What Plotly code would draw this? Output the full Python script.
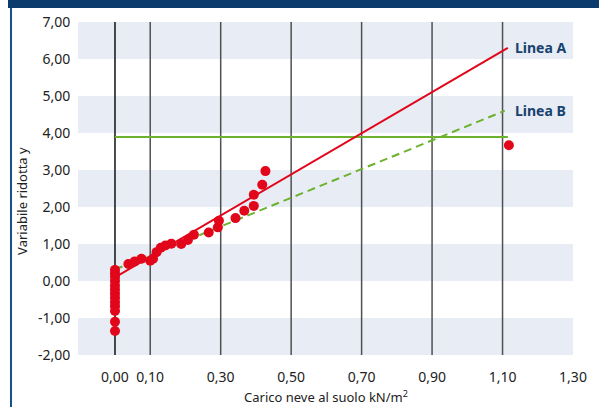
import plotly.graph_objects as go

# ---- data ----
pts_x = [0, 0, 0, 0, 0, 0, 0, 0, 0, 0, 0, 0, 0,
         0.038, 0.056, 0.075, 0.100, 0.108, 0.118, 0.130, 0.143, 0.160,
         0.188, 0.207, 0.224, 0.266, 0.292, 0.295, 0.342, 0.367, 0.394,
         0.394, 0.418, 0.427, 1.118]
pts_y = [0.30, 0.20, 0.11, 0.00, -0.12, -0.23, -0.34, -0.45, -0.57, -0.68, -0.81, -1.10, -1.35,
         0.46, 0.53, 0.60, 0.55, 0.60, 0.78, 0.90, 0.96, 1.01,
         1.00, 1.11, 1.25, 1.31, 1.45, 1.63, 1.70, 1.90, 2.03,
         2.33, 2.60, 2.97, 3.67]

line_a_x = [0.0, 1.115]
line_a_y = [0.10, 6.30]
line_b_x = [0.0, 1.106]
line_b_y = [0.31, 4.60]
limit_x = [0.0, 1.115]
limit_y = [3.89, 3.89]

x_ticks = [0.0, 0.1, 0.3, 0.5, 0.7, 0.9, 1.1, 1.3]
x_ticktext = ["0,00", "0,10", "0,30", "0,50", "0,70", "0,90", "1,10", "1,30"]
x_gridlines = [0.0, 0.1, 0.3, 0.5, 0.7, 0.9, 1.1]
y_ticks = [-2, -1, 0, 1, 2, 3, 4, 5, 6, 7]
y_ticktext = ["-2,00", "-1,00", "0,00", "1,00", "2,00", "3,00", "4,00", "5,00", "6,00", "7,00"]
bands = [(6, 7), (4, 5), (2, 3), (0, 1), (-2, -1)]

RED = "#e2061b"
GREEN = "#6cb22f"
NAVY = "#17426f"
FONT = "Noto Sans"

fig = go.Figure()
fig.add_trace(go.Scatter(x=limit_x, y=limit_y, mode="lines",
                         line=dict(color=GREEN, width=2), hoverinfo="skip"))
fig.add_trace(go.Scatter(x=line_b_x, y=line_b_y, mode="lines",
                         line=dict(color=GREEN, width=2, dash="8px,5px"), hoverinfo="skip"))
fig.add_trace(go.Scatter(x=line_a_x, y=line_a_y, mode="lines",
                         line=dict(color=RED, width=2), hoverinfo="skip"))
fig.add_trace(go.Scatter(x=pts_x, y=pts_y, mode="markers",
                         marker=dict(color=RED, size=10, line=dict(width=0))))

shapes = []
for y0, y1 in bands:
    shapes.append(dict(type="rect", xref="paper", yref="y", x0=0, x1=1, y0=y0, y1=y1,
                       fillcolor="#e8ecf5", line=dict(width=0), layer="below"))
for gx in x_gridlines:
    shapes.append(dict(type="line", xref="x", yref="paper", x0=gx, x1=gx, y0=0, y1=1,
                       line=dict(color="#111111" if gx == 0 else "#505050", width=1.5),
                       layer="below"))
# frame decorations (top band and left border)
shapes.append(dict(type="rect", xref="paper", yref="paper", x0=-0.1414, x1=1.06,
                   y0=1.0418, y1=1.07, fillcolor="#0b3a6c", line=dict(width=0)))
shapes.append(dict(type="rect", xref="paper", yref="paper", x0=-0.1374, x1=-0.1333,
                   y0=-0.16, y1=1.0418, fillcolor="#1b4f8a", line=dict(width=0)))

annotations = [
    dict(x=1.13, y=line_a_y[1], xref="x", yref="y", text="<b>Linea A</b>", showarrow=False,
         xanchor="left", yanchor="middle", font=dict(family=FONT, size=14, color=NAVY)),
    dict(x=1.13, y=line_b_y[1], xref="x", yref="y", text="<b>Linea B</b>", showarrow=False,
         xanchor="left", yanchor="middle", font=dict(family=FONT, size=14, color=NAVY)),
    dict(x=0.5, y=-0.125, xref="paper", yref="paper", text="Carico neve al suolo kN/m<sup>2</sup>",
         showarrow=False, xanchor="center", yanchor="middle",
         font=dict(family=FONT, size=13, color="#222222")),
    dict(x=-0.113, y=0.463, xref="paper", yref="paper", text="Variabile ridotta y",
         showarrow=False, xanchor="center", yanchor="middle", textangle=-90,
         font=dict(family=FONT, size=13, color="#222222")),
]

fig.update_layout(
    width=599, height=407,
    margin=dict(l=78, r=26, t=20, b=52),
    paper_bgcolor="white", plot_bgcolor="white",
    showlegend=False,
    shapes=shapes, annotations=annotations,
    font=dict(family=FONT, size=14, color="#222222"),
    xaxis=dict(range=[-0.105, 1.30], tickvals=x_ticks, ticktext=x_ticktext,
               showgrid=False, zeroline=False, showline=False,
               ticks="outside", ticklen=9, tickcolor="rgba(0,0,0,0)",
               tickfont=dict(family=FONT, size=14, color="#222222")),
    yaxis=dict(range=[-2, 7], tickvals=y_ticks, ticktext=y_ticktext,
               showgrid=False, zeroline=False, showline=False,
               ticks="outside", ticklen=4, tickcolor="rgba(0,0,0,0)",
               tickfont=dict(family=FONT, size=14, color="#222222")),
)

fig.write_html("out.html", config={"displayModeBar": False},
               post_script="document.body.style.margin='0';document.body.style.overflow='hidden';")
